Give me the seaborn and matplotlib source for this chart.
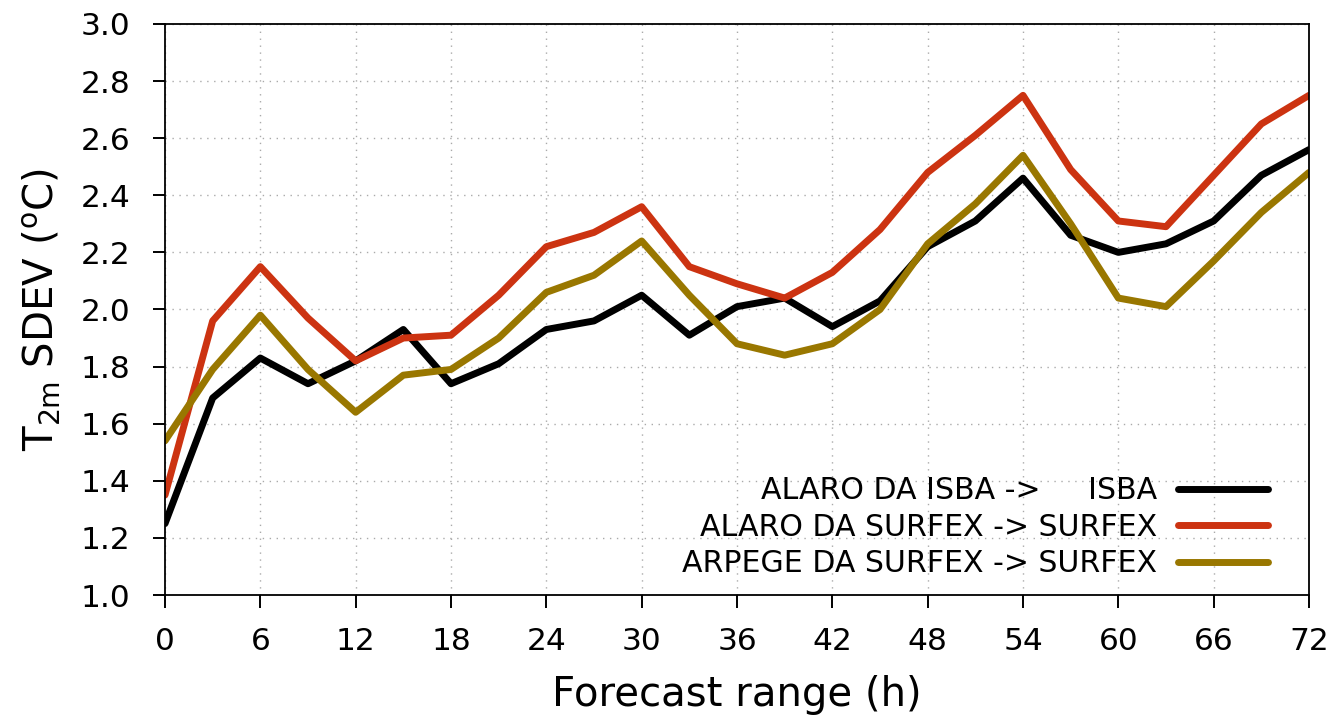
import pandas as pd
import matplotlib
matplotlib.use('Agg')
import matplotlib.pyplot as plt
import seaborn as sns

# Dados
horas = [0, 3, 6, 9, 12, 15, 18, 21, 24, 27, 30, 33, 36, 39, 42, 45, 48, 51, 54, 57, 60, 63, 66, 69, 72]
isba = [1.25, 1.69, 1.83, 1.74, 1.82, 1.93, 1.74, 1.81, 1.93, 1.96, 2.05, 1.91, 2.01, 2.04, 1.94, 2.03,
        2.22, 2.31, 2.46, 2.26, 2.20, 2.23, 2.31, 2.47, 2.56]
surfex = [1.35, 1.96, 2.15, 1.97, 1.82, 1.90, 1.91, 2.05, 2.22, 2.27, 2.36, 2.15, 2.09, 2.04, 2.13, 2.28,
          2.48, 2.61, 2.75, 2.49, 2.31, 2.29, 2.47, 2.65, 2.75]
arpege = [1.54, 1.79, 1.98, 1.79, 1.64, 1.77, 1.79, 1.90, 2.06, 2.12, 2.24, 2.05, 1.88, 1.84, 1.88, 2.00,
          2.23, 2.37, 2.54, 2.30, 2.04, 2.01, 2.17, 2.34, 2.48]
nomes = ['ALARO DA ISBA ->     ISBA', 'ALARO DA SURFEX -> SURFEX', 'ARPEGE DA SURFEX -> SURFEX']
cores = ['#000000', '#cc3311', '#997700']

df = pd.concat([
    pd.DataFrame({'h': horas, 'sdev': isba, 'exp': nomes[0]}),
    pd.DataFrame({'h': horas, 'sdev': surfex, 'exp': nomes[1]}),
    pd.DataFrame({'h': horas, 'sdev': arpege, 'exp': nomes[2]}),
], ignore_index=True)

sns.set_style('ticks')
plt.rcParams['font.family'] = ['DejaVu Sans']
plt.rcParams.update({
    'text.color': 'black', 'axes.labelcolor': 'black',
    'xtick.color': 'black', 'ytick.color': 'black',
    'xtick.direction': 'out', 'ytick.direction': 'out',
    'xtick.major.size': 9, 'ytick.major.size': 9,
    'xtick.major.width': 1.4, 'ytick.major.width': 1.4,
    'xtick.bottom': True, 'ytick.left': True,
    'xtick.top': False, 'ytick.right': False,
})

fig = plt.figure(figsize=(13.36, 7.18), dpi=100)
ax = fig.add_axes([0.1235, 0.1713, 0.8563, 0.7953])

sns.lineplot(data=df, x='h', y='sdev', hue='exp', palette=dict(zip(nomes, cores)),
             linewidth=5, ax=ax, legend=True)

ax.set_xlim(0, 72)
ax.set_ylim(1.0, 3.0)
ax.set_xticks(range(0, 73, 6))
ax.set_yticks([1.0 + 0.2 * i for i in range(11)])
ax.set_yticklabels([f'{1.0 + 0.2 * i:.1f}' for i in range(11)])
ax.tick_params(axis='both', labelsize=22.5)
ax.tick_params(axis='x', pad=14)
ax.tick_params(axis='y', pad=16)
for s in ax.spines.values():
    s.set_visible(True)
    s.set_color('black')
    s.set_linewidth(1.3)
ax.grid(True, color='#aaaaaa', linestyle=(0, (1, 4)), linewidth=1.0)

ax.set_xlabel('Forecast range (h)', fontsize=29, labelpad=14)
ax.set_ylabel(r'T$_{\mathrm{2m}}$ SDEV ($^{\mathrm{o}}$C)', fontsize=29, labelpad=12)

leg = ax.legend(loc='lower right', markerfirst=False, frameon=False, fontsize=21.6,
                handlelength=3.0, handletextpad=0.7, labelspacing=0.25, borderaxespad=0.0,
                bbox_to_anchor=(0.975, 0.008))

plt.savefig('out.png', dpi=100)
plt.close()
